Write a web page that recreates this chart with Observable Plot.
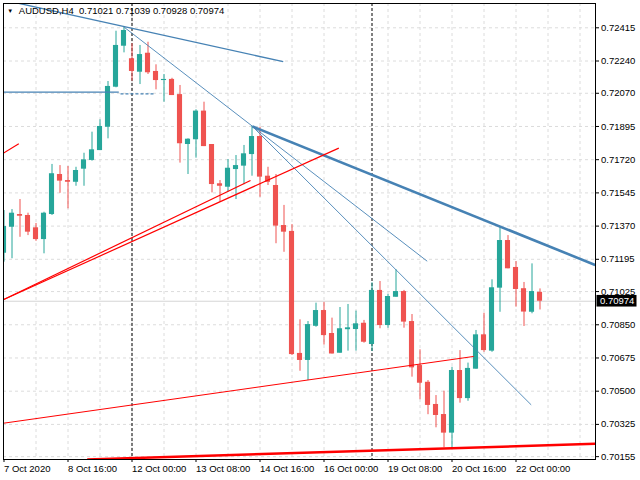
<!DOCTYPE html>
<html>
<head>
<meta charset="utf-8">
<script src="https://cdn.jsdelivr.net/npm/d3@7"></script>
<script src="https://cdn.jsdelivr.net/npm/@observablehq/plot@0.6"></script>
<style>
  html, body { margin: 0; padding: 0; background: #fff; }
</style>
</head>
<body>
<div id="chart"></div>
<script>
// ---- data (AUDUSD H4 candles, index 0 = 7 Oct 2020 08:00) ----
const open = [.71227,.71364,.71431,.71426,.71361,.71299,.71431,.71642,.71610,.71601,.71670,.71716,.71768,.71891,.72102,.72318,.72252,.72181,.72281,.72185,.72137,.72143,.72063,.71800,.71825,.71976,.71800,.71593,.71575,.71668,.71686,.71747,.71842,.71633,.71584,.71373,.71342,.70699,.70662,.70842,.70925,.70804,.70700,.70824,.70825,.70858,.70746,.71031,.70846,.70995,.71025,.70867,.70635,.70547,.70430,.70377,.70279,.70609,.70461,.70616,.70797,.70711,.71043,.71294,.71152,.71040,.70916,.71021];
const high = [.71452,.71457,.71510,.71438,.71384,.71443,.71695,.71689,.71684,.71680,.71754,.71865,.71930,.72132,.72397,.72422,.72331,.72322,.72339,.72220,.72169,.72149,.72111,.71830,.71983,.72023,.71800,.71610,.71721,.71742,.71795,.71896,.71891,.71680,.71642,.71479,.71378,.70876,.70867,.70964,.70968,.70885,.70941,.70957,.70922,.70873,.71071,.71078,.71010,.71140,.71031,.70904,.70718,.70556,.70477,.70500,.70626,.70714,.70648,.70820,.70911,.71087,.71364,.71320,.71183,.71073,.71171,.71039];
const low = [.71180,.71198,.71311,.71320,.71290,.71224,.71426,.71543,.71461,.71580,.71580,.71712,.71768,.71830,.72099,.72283,.72134,.72116,.72169,.72088,.72023,.72058,.71702,.71642,.71728,.71789,.71545,.71496,.71549,.71510,.71588,.71633,.71522,.71584,.71277,.71232,.70688,.70605,.70556,.70837,.70743,.70696,.70700,.70711,.70711,.70753,.70709,.70829,.70832,.70995,.70832,.70574,.70455,.70376,.70307,.70202,.70202,.70437,.70447,.70616,.70705,.70705,.70916,.71145,.70943,.70841,.70908,.70928];
const close = [.71368,.71438,.71422,.71338,.71299,.71438,.71646,.71607,.71601,.71663,.71719,.71772,.71895,.72106,.72322,.72401,.72185,.72274,.72178,.72137,.72143,.72058,.71804,.71828,.71976,.71789,.71589,.71580,.71675,.71689,.71751,.71842,.71628,.71601,.71370,.71338,.70693,.70662,.70851,.70925,.70793,.70696,.70829,.70834,.70855,.70758,.71031,.70846,.70999,.71025,.70864,.70623,.70542,.70425,.70372,.70279,.70609,.70461,.70620,.70797,.70714,.71045,.71294,.71145,.71036,.70917,.71025,.70974];

const yTicks = [0.72415,0.72240,0.72070,0.71895,0.71720,0.71545,0.71370,0.71195,0.71025,0.70850,0.70675,0.70500,0.70325,0.70155];
const xTickIdx = [0,8,16,24,32,40,48,56,64];
const xLabels = ["7 Oct 2020","8 Oct 16:00","12 Oct 00:00","13 Oct 08:00","14 Oct 16:00","16 Oct 00:00","19 Oct 08:00","20 Oct 16:00","22 Oct 00:00"];
const gridIdx = [4,8,12,16,20,24,28,32,36,40,44,48,52,56,60,64,68,72];
const weekSeparators = [16, 46];
const lastPrice = 0.70974;
const titleText = "AUDUSD,H4  0.71021 0.71039 0.70928 0.70974";

// trend lines: [index1, price1, index2, price2]
const blueMedium = [[1.7,.72545,34.9,.72237],[-0.1,.72076,14.35,.72076]];
const blueDashed = [[14.56,.72067,18.94,.72067]];
const blueThin = [[15.06,.72417,52.9,.71185],[31.06,.71895,65.9,.70428]];
const blueThick = [[31.06,.71895,73.9,.71165]];
const redThin = [[-0.1,.71754,1.85,.71804],[-0.1,.70982,30.81,.71610],[-0.1,.70982,41.85,.71781]];
const redHair = [[-0.1,.70331,58.7,.70683]];
const redThick = [[10.4,.70140,73.9,.70223]];

const candles = open.map((o, i) => ({i, o, h: high[i], l: low[i], c: close[i]}));
const UP = "#26a69a", DOWN = "#ef5350";
const col = d => d.c >= d.o ? UP : DOWN;
const seg = (arr, opts) => Plot.link(arr, {x1: d => d[0], y1: d => d[1], x2: d => d[2], y2: d => d[3], clip: true, ...opts});

const plot = Plot.plot({
  width: 640,
  height: 480,
  marginLeft: 3,
  marginRight: 45,
  marginTop: 3,
  marginBottom: 21,
  style: {fontFamily: "'Liberation Sans', Arial, sans-serif", fontSize: "9.5px", background: "#fff", color: "#000", overflow: "visible"},
  x: {domain: [-0.0625, 73.9375], label: null},
  y: {domain: [0.701400, 0.725431], label: null},
  color: {type: "identity"},
  marks: [
    Plot.gridY(yTicks, {stroke: "#dcdcdc", strokeOpacity: 1, strokeDasharray: "3,3"}),
    Plot.gridX(gridIdx, {stroke: "#dcdcdc", strokeOpacity: 1, strokeDasharray: "3,3"}),
    Plot.ruleY([lastPrice], {stroke: "#d6d6d6", strokeWidth: 1}),
    Plot.ruleX(weekSeparators, {stroke: "#000", strokeWidth: 1, strokeDasharray: "3,2"}),
    Plot.ruleX(candles, {x: "i", y1: "l", y2: "h", stroke: col, strokeWidth: 1, clip: true}),
    Plot.rect(candles, {x1: d => d.i - 0.32, x2: d => d.i + 0.32, y1: "o", y2: "c", fill: col, clip: true}),
    seg(blueMedium, {stroke: "#4682b4", strokeWidth: 1.4}),
    seg(blueDashed, {stroke: "#4682b4", strokeWidth: 1.2, strokeDasharray: "3,2"}),
    seg(blueThin, {stroke: "#4682b4", strokeWidth: 0.9}),
    seg(blueThick, {stroke: "#4682b4", strokeWidth: 2.6}),
    seg(redThin, {stroke: "#ff0000", strokeWidth: 1.2}),
    seg(redHair, {stroke: "#ff0000", strokeWidth: 1}),
    seg(redThick, {stroke: "#ff0000", strokeWidth: 2.5}),
    Plot.axisY(yTicks, {anchor: "right", tickSize: 3, tickPadding: 2.5, tickFormat: d3.format(".5f"), stroke: "#000"}),
    Plot.axisX(xTickIdx, {anchor: "bottom", tickSize: 3, tickPadding: 3, tickFormat: d => xLabels[xTickIdx.indexOf(d)], textAnchor: "start", stroke: "#000"}),
    Plot.frame({stroke: "#000"}),
    Plot.text([titleText], {frameAnchor: "top-left", dx: 15.3, dy: 3.6, textAnchor: "start", lineAnchor: "top", fill: "#000", fontSize: 9.5}),
    Plot.text(["▼"], {frameAnchor: "top-left", dx: 3.7, dy: 5.2, textAnchor: "start", lineAnchor: "top", fill: "#000", fontSize: 6})
  ]
});

// current price label on the right axis, positioned through Plot's own y scale
const ys = plot.scale("y");
const yy = ys.apply(lastPrice);
const g = d3.select(plot).append("g");
g.append("rect").attr("x", 596.5).attr("y", yy - 5.8).attr("width", 40).attr("height", 11.6).attr("fill", "#000");
g.append("text").attr("x", 600).attr("y", yy).attr("dy", "0.35em")
  .attr("text-anchor", "start")
  .attr("fill", "#fff").attr("font-size", "9.5px").attr("font-family", "'Liberation Sans', Arial, sans-serif")
  .text(d3.format(".5f")(lastPrice));

document.getElementById("chart").appendChild(plot);
</script>
</body>
</html>
